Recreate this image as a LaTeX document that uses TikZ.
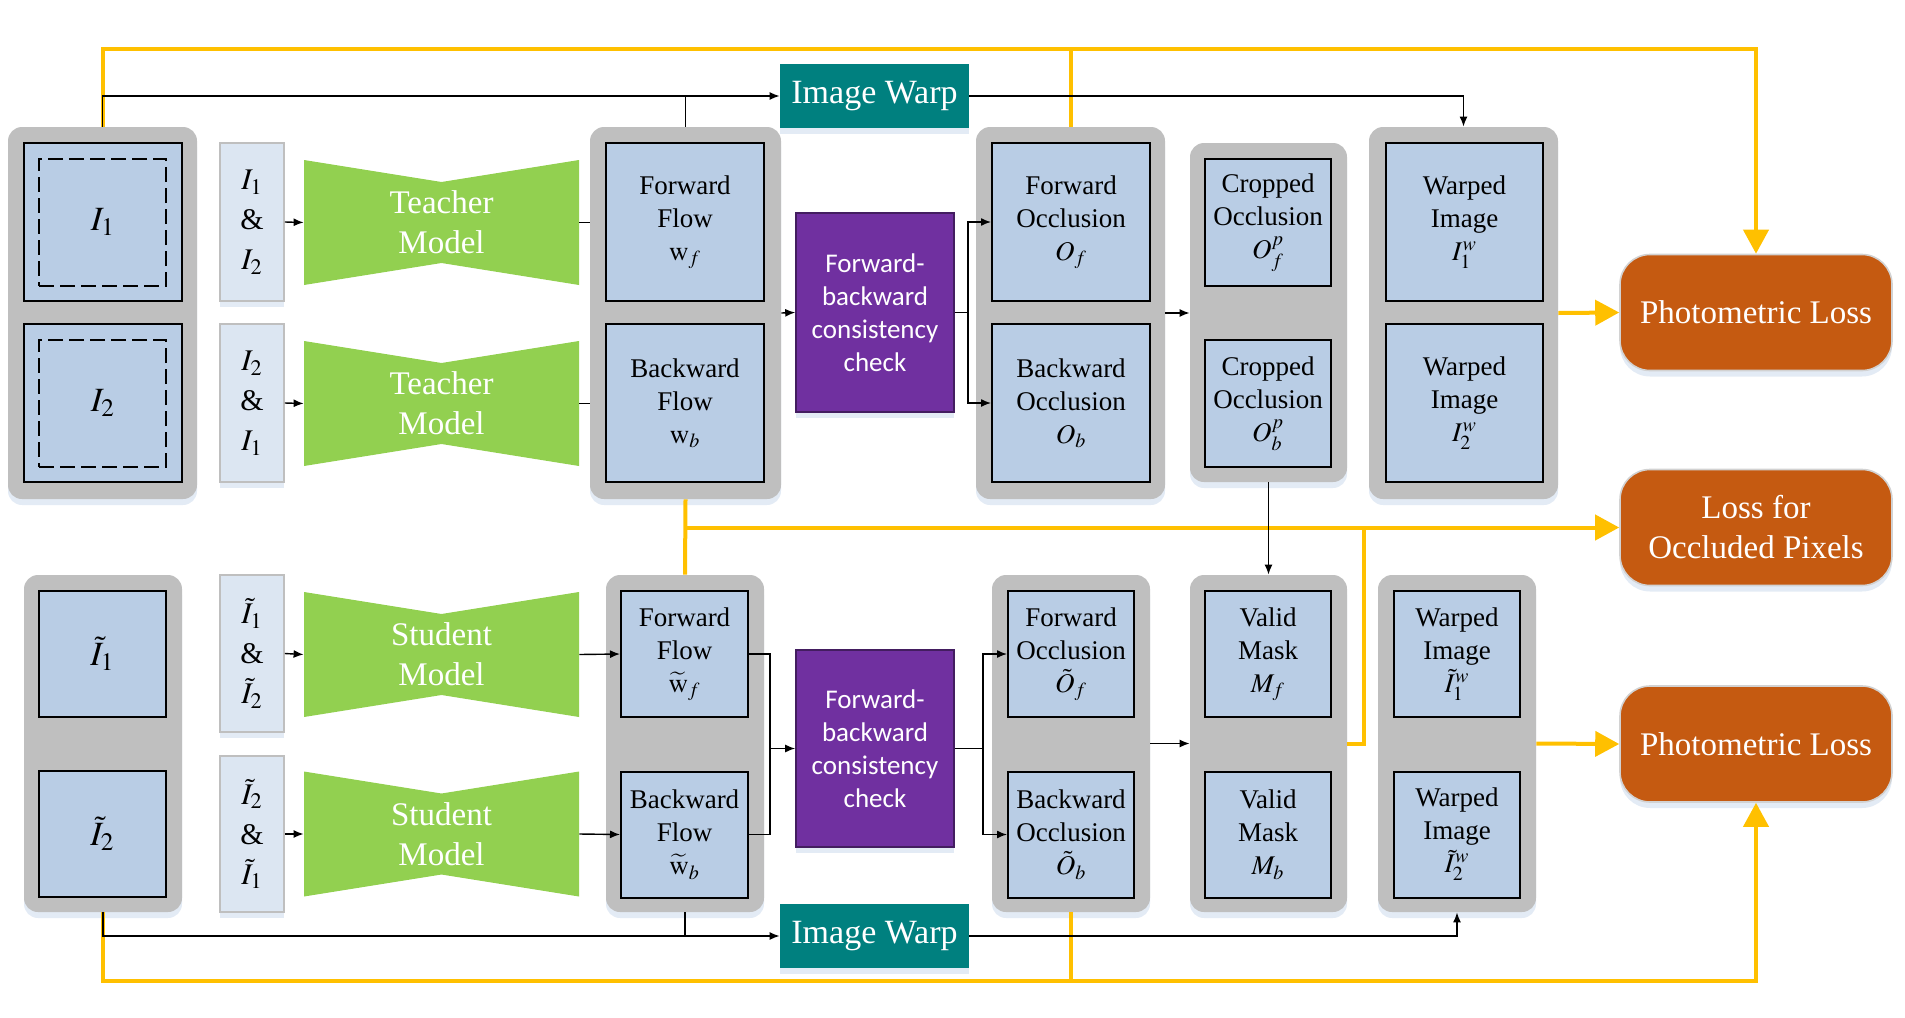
\documentclass[tikz,border=0pt]{standalone}
\usepackage{mathptmx}
\usepackage{fontspec}
\setmainfont{Liberation Serif}
\newfontfamily\timesfont{Liberation Serif}
\newfontfamily\calibri{Carlito}
\usetikzlibrary{arrows.meta}
\usetikzlibrary{shadows}
\definecolor{boxblue}{HTML}{B9CDE5}
\definecolor{pairblue}{HTML}{DCE6F2}
\definecolor{grpgray}{HTML}{BFBFBF}
\definecolor{modelgreen}{HTML}{92D050}
\definecolor{checkpurple}{HTML}{7030A0}
\definecolor{warpteal}{HTML}{00807F}
\definecolor{lossorange}{HTML}{C55A11}
\definecolor{lineyellow}{HTML}{FFC000}
\definecolor{shadeblue}{HTML}{DCE6F2}

\tikzset{
  sz/.style 2 args={minimum width=#1, minimum height=#2},
  soft/.style={drop shadow={shadow xshift=0pt, shadow yshift=-3pt, fill=shadeblue, opacity=0.8}},
  grp/.style={fill=grpgray, rounded corners=7pt, inner sep=0pt, soft},
  imgbox/.style={draw=black, line width=1pt, fill=boxblue, inner sep=0pt, align=center,
    font=\timesfont\fontsize{13.5}{16.5}\selectfont},
  bigimg/.style={imgbox, font=\timesfont\fontsize{17}{20}\selectfont},
  dashbox/.style={draw=black, line width=1pt, dash pattern=on 7.5pt off 3pt, sz={63.5pt}{63.5pt}, inner sep=0pt},
  pair/.style={draw=grpgray, line width=0.8pt, fill=pairblue, sz={32pt}{79pt}, inner sep=0pt, align=center,
    soft, font=\timesfont\fontsize{15}{20}\selectfont},
  model/.style={sz={137.5pt}{62.5pt}, inner sep=0pt, align=center, text=white,
    font=\timesfont\fontsize{16.5}{20}\selectfont,
    path picture={\fill[modelgreen] (path picture bounding box.north west)
      -- ([yshift=-11pt]path picture bounding box.north) -- (path picture bounding box.north east)
      -- (path picture bounding box.south east) -- ([yshift=11pt]path picture bounding box.south)
      -- (path picture bounding box.south west) -- cycle;}},
  check/.style={fill=checkpurple, draw=checkpurple!60!black, line width=0.8pt, text=white, align=center,
    minimum width=79pt, inner sep=0pt, soft, font=\calibri\fontsize{13.5}{16.5}\selectfont},
  warp/.style={fill=warpteal, text=white, sz={94.5pt}{32pt}, inner sep=0pt, soft,
    font=\timesfont\fontsize{17}{20}\selectfont},
  loss/.style={fill=lossorange, draw=gray!35, line width=0.8pt, rounded corners=15pt, text=white, align=center,
    sz={136pt}{58pt}, inner sep=0pt, soft, font=\timesfont\fontsize{16.5}{20}\selectfont},
  arr/.style={-{Latex[length=5pt,width=4pt]}, line width=0.7pt},
  yel/.style={draw=lineyellow, line width=2pt},
  yarr/.style={yel, -{Triangle[length=12pt,width=12.5pt]}}
}

\begin{document}
\begin{tikzpicture}[x=0.5pt, y=-0.5pt]
\useasboundingbox (0,0) rectangle (1905,1017);
% TEACHER
\node[grp, sz={94.5pt}{186pt}] (g1) at (102.5,313) {};
\node[bigimg, sz={79pt}{79pt}] (i1) at (103,222) {$I_1$};
\node[bigimg, sz={79pt}{79pt}] (i2) at (103,403) {$I_2$};
\node[dashbox] (d1) at (102.5,222.5) {};
\node[dashbox] (d2) at (102.5,403.5) {};
\node[pair] (a1) at (252,222) {$I_1$\\\&\\$I_2$};
\node[pair] (a2) at (252,403) {$I_2$\\\&\\$I_1$};
\node[model] (t1) at (441.5,222.5) {Teacher\\Model};
\node[model] (t2) at (441.5,403.5) {Teacher\\Model};
\node[grp, sz={95.5pt}{186pt}] (g2) at (685.5,313) {};
\node[imgbox, sz={79pt}{79pt}] (ff) at (685,222) {Forward\\Flow\\$\mathrm{w}_f$};
\node[imgbox, sz={79pt}{79pt}] (fb) at (685,403) {Backward\\Flow\\$\mathrm{w}_b$};
\node[check, minimum height=99.5pt] (p1) at (875,312.5) {Forward-\\backward\\consistency\\check};
\node[warp] (w1) at (874.5,96) {Image Warp};
\node[grp, sz={94.5pt}{186pt}] (g3) at (1070.5,313) {};
\node[imgbox, sz={79pt}{79pt}] (of) at (1071,222) {Forward\\Occlusion\\$O_f$};
\node[imgbox, sz={79pt}{79pt}] (ob) at (1071,403) {Backward\\Occlusion\\$O_b$};
\node[grp, sz={78.5pt}{169.5pt}] (g4) at (1268.5,312.5) {};
\node[imgbox, sz={63pt}{63.5pt}] (cf) at (1268,222.5) {Cropped\\Occlusion\\$O_f^p$};
\node[imgbox, sz={63pt}{63.5pt}] (cb) at (1268,403.5) {Cropped\\Occlusion\\$O_b^p$};
\node[grp, sz={94.5pt}{186pt}] (g5) at (1463.5,313) {};
\node[imgbox, sz={78.5pt}{79pt}] (wf) at (1464.5,222) {Warped\\Image\\$I_1^w$};
\node[imgbox, sz={78.5pt}{79pt}] (wb) at (1464.5,403) {Warped\\Image\\$I_2^w$};
\node[loss] (pl1) at (1756,312.5) {Photometric Loss};
\node[loss] (lo) at (1756,527.5) {Loss for\\Occluded Pixels};
% STUDENT
\node[grp, sz={79pt}{168.5pt}] (sg1) at (103,743.5) {};
\node[bigimg, sz={63.5pt}{63pt}] (si1) at (102.5,654) {$\tilde{I}_1$};
\node[bigimg, sz={63.5pt}{63pt}] (si2) at (102.5,834) {$\tilde{I}_2$};
\node[pair, minimum height=78.5pt] (sa1) at (252,653.5) {$\tilde{I}_1$\\\&\\$\tilde{I}_2$};
\node[pair, minimum height=78pt] (sa2) at (252,834) {$\tilde{I}_2$\\\&\\$\tilde{I}_1$};
\node[model] (s1) at (441.5,654.5) {Student\\Model};
\node[model] (s2) at (441.5,834) {Student\\Model};
\node[grp, sz={79pt}{168.5pt}] (sfg) at (685,743.5) {};
\node[imgbox, sz={63.5pt}{63pt}] (sff) at (684.5,654) {Forward\\Flow\\$\widetilde{\mathrm{w}}_f$};
\node[imgbox, sz={63.5pt}{63pt}] (sfb) at (684.5,834.5) {Backward\\Flow\\$\widetilde{\mathrm{w}}_b$};
\node[check, minimum height=98.5pt] (p2) at (875,748.5) {Forward-\\backward\\consistency\\check};
\node[grp, sz={79pt}{168.5pt}] (socg) at (1071,743.5) {};
\node[imgbox, sz={63pt}{63pt}] (sof) at (1071,654) {Forward\\Occlusion\\$\tilde{O}_f$};
\node[imgbox, sz={63pt}{63pt}] (sob) at (1071,834.5) {Backward\\Occlusion\\$\tilde{O}_b$};
\node[grp, sz={78.5pt}{168.5pt}] (vg) at (1268.5,743.5) {};
\node[imgbox, sz={63pt}{63pt}] (vf) at (1268,654) {Valid\\Mask\\$M_f$};
\node[imgbox, sz={63pt}{63pt}] (vb) at (1268,834.5) {Valid\\Mask\\$M_b$};
\node[grp, sz={79pt}{168.5pt}] (swg) at (1457,743.5) {};
\node[imgbox, sz={63pt}{63pt}] (swf) at (1457,654) {Warped\\Image\\$\tilde{I}_1^w$};
\node[imgbox, sz={63pt}{63pt}] (swb) at (1457,834.5) {Warped\\Image\\$\tilde{I}_2^w$};
\node[loss] (pl2) at (1756,744) {Photometric Loss};
\node[warp] (w2) at (874.5,936) {Image Warp};
\coordinate (ytop) at (1756,49);
\coordinate (ybot) at (1756,981);
\coordinate (yjoin) at (1364,527.5);
\coordinate (sj) at (770,748.5);
% LINEE GIALLE
\draw[yarr] (g1.north) |- (ytop) -- (pl1.north);
\draw[yel] (g3.north) -- (g3.north |- ytop);
\draw[yel] (g2.south) -- (sfg.north);
\draw[yarr] (g2.south |- lo.west) -- (lo.west);
\draw[yel] (vg.east) -| (yjoin);
\draw[yarr] (g5.east) -- (pl1.west);
\draw[yarr] (swg.east) -- (pl2.west);
\draw[yarr] (sg1.south) |- (ybot) -- (pl2.south);
\draw[yel] (socg.south) -- (socg.south |- ybot);
% FRECCE TEACHER
\draw[arr] (g1.north) |- (w1.west);
\draw[line width=0.7pt] (g2.north) -- (g2.north |- w1.west);
\draw[arr] (w1.east) -| (g5.north);
\draw[arr] (a1.east) -- (t1.west);
\draw[arr] (a2.east) -- (t2.west);
\draw[line width=0.7pt] (t1.east) -- (t1.east -| g2.west);
\draw[line width=0.7pt] (t2.east) -- (t2.east -| g2.west);
\draw[arr] (g2.east) -- (p1.west);
\draw[arr] (p1.east) -- ++(13,0) |- (of.west);
\draw[arr] (p1.east) -- ++(13,0) |- (ob.west);
\draw[arr] (g3.east) -- (g3.east -| g4.west);
\draw[arr] (g4.south) -- (vg.north);
% FRECCE STUDENT
\draw[arr] (sa1.east) -- (s1.west);
\draw[arr] (sa2.east) -- (s2.west);
\draw[arr] (s1.east) -- (sff.west);
\draw[arr] (s2.east) -- (sfb.west);
\draw[line width=0.7pt] (sff.east) -| (sj) |- (sfb.east);
\draw[arr] (sj) -- (p2.west);
\draw[arr] (p2.east) -- ++(28,0) |- (sof.west);
\draw[arr] (p2.east) -- ++(28,0) |- (sob.west);
\draw[arr] (socg.east) -- (vg.west);
\draw[arr] (sg1.south) |- (w2.west);
\draw[line width=0.7pt] (sfg.south) -- (sfg.south |- w2.west);
\draw[arr] (w2.east) -| (swg.south);
\end{tikzpicture}
\end{document}
